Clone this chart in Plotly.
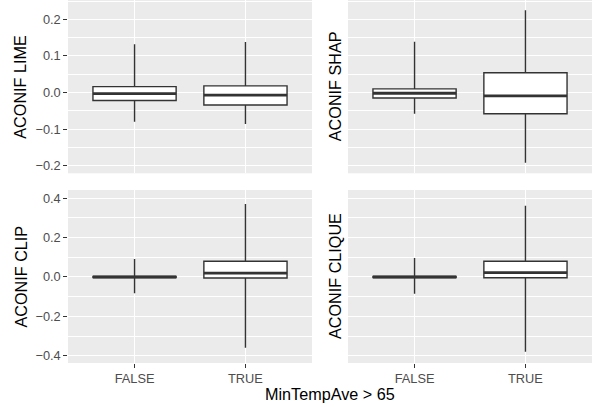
import plotly.graph_objects as go

# ---- data ----
categories = ["FALSE", "TRUE"]

lime_lower = [-0.080, -0.086]
lime_q1 = [-0.022, -0.034]
lime_median = [-0.003, -0.007]
lime_q3 = [0.016, 0.018]
lime_upper = [0.132, 0.138]

shap_lower = [-0.058, -0.192]
shap_q1 = [-0.015, -0.058]
shap_median = [-0.002, -0.009]
shap_q3 = [0.010, 0.054]
shap_upper = [0.139, 0.225]

clip_lower = [-0.083, -0.360]
clip_q1 = [-0.003, -0.005]
clip_median = [0.000, 0.020]
clip_q3 = [0.003, 0.080]
clip_upper = [0.091, 0.371]

clique_lower = [-0.085, -0.380]
clique_q1 = [-0.003, -0.004]
clique_median = [0.000, 0.022]
clique_q3 = [0.003, 0.080]
clique_upper = [0.096, 0.362]

panel_titles = ["ACONIF LIME", "ACONIF SHAP", "ACONIF CLIP", "ACONIF CLIQUE"]
x_title = "MinTempAve > 65"

panels = [
    (lime_lower, lime_q1, lime_median, lime_q3, lime_upper),
    (shap_lower, shap_q1, shap_median, shap_q3, shap_upper),
    (clip_lower, clip_q1, clip_median, clip_q3, clip_upper),
    (clique_lower, clique_q1, clique_median, clique_q3, clique_upper),
]

# ---- layout geometry ----
W, H = 597, 407
FONT = "Liberation Sans, Arial, Helvetica, sans-serif"
LINE = "#333333"
LW = 1.4
TICK_SIZE = 12.8
TITLE_SIZE = 16.2

x_doms = [[68 / W, 312 / W], [348 / W, 592 / W]]
y_doms = [[1 - 173.3 / H, 1.0], [1 - 363 / H, 1 - 190 / H]]
y_ranges = [[-0.2208, 0.2528], [-0.437, 0.442]]
y_dticks = [0.1, 0.2]

fig = go.Figure()

for i, (lo, q1, med, q3, up) in enumerate(panels):
    ax = "" if i == 0 else str(i + 1)
    fig.add_trace(go.Box(
        x=categories, q1=q1, median=med, q3=q3,
        lowerfence=lo, upperfence=up,
        xaxis="x" + ax, yaxis="y" + ax,
        width=0.75, whiskerwidth=0, boxpoints=False,
        fillcolor="white", line=dict(color=LINE, width=LW),
        showlegend=False, hoverinfo="skip",
    ))
    # thicker median bar (ggplot fatten = 2)
    fig.add_trace(go.Box(
        x=categories, q1=med, median=med, q3=med,
        lowerfence=med, upperfence=med,
        xaxis="x" + ax, yaxis="y" + ax,
        width=0.75, whiskerwidth=0, boxpoints=False,
        fillcolor="rgba(0,0,0,0)", line=dict(color=LINE, width=2.8),
        showlegend=False, hoverinfo="skip",
    ))

layout = dict(
    width=W, height=H,
    margin=dict(l=0, r=0, t=0, b=0),
    paper_bgcolor="white",
    plot_bgcolor="#EBEBEB",
    font=dict(family=FONT),
    showlegend=False,
    boxmode="overlay",
)

for i in range(4):
    row, col = divmod(i, 2)
    ax = "" if i == 0 else str(i + 1)
    bottom = row == 1
    left = col == 0
    layout["xaxis" + ax] = dict(
        domain=x_doms[col], anchor="y" + ax,
        type="category", categoryorder="array", categoryarray=categories,
        range=[-0.6, 1.6],
        showgrid=True, gridcolor="white", gridwidth=LW,
        zeroline=False, showline=False,
        showticklabels=bottom,
        ticks="outside" if bottom else "",
        ticklen=3.7, tickwidth=LW, tickcolor=LINE,
        tickfont=dict(size=TICK_SIZE, color="#4D4D4D", family=FONT),
    )
    layout["yaxis" + ax] = dict(
        domain=y_doms[row], anchor="x" + ax,
        range=y_ranges[row],
        tick0=0, dtick=y_dticks[row], tickformat=".1f",
        showgrid=True, gridcolor="white", gridwidth=LW,
        minor=dict(tick0=0, dtick=y_dticks[row] / 2, showgrid=True,
                   gridcolor="white", gridwidth=0.7, ticks=""),
        zeroline=False, showline=False,
        showticklabels=left,
        ticks="outside" if left else "",
        ticklen=3.7, tickwidth=LW, tickcolor=LINE,
        tickfont=dict(size=TICK_SIZE, color="#4D4D4D", family=FONT),
    )

fig.update_layout(**layout)

annotations = []
title_x = [20, 334.5]
title_y = [86.7, 276.5]
for i, t in enumerate(panel_titles):
    row, col = divmod(i, 2)
    annotations.append(dict(
        text=t, xref="paper", yref="paper",
        x=title_x[col] / W, y=1 - title_y[row] / H,
        xanchor="center", yanchor="middle", textangle=-90,
        showarrow=False, font=dict(size=TITLE_SIZE, color="black", family=FONT),
    ))
annotations.append(dict(
    text=x_title, xref="paper", yref="paper",
    x=329.5 / W, y=1 - 393.5 / H, xanchor="center", yanchor="middle",
    showarrow=False, font=dict(size=TITLE_SIZE, color="black", family=FONT),
))
fig.update_layout(annotations=annotations)

fig.write_html(
    "out.html",
    config={"displayModeBar": False},
    post_script="document.body.style.margin='0';document.body.style.padding='0';"
                "document.documentElement.style.overflow='hidden';",
)
